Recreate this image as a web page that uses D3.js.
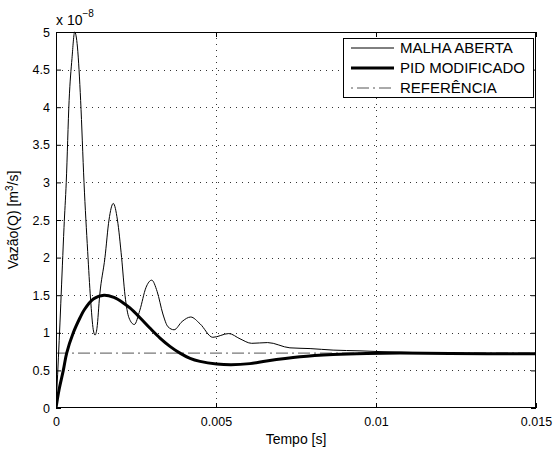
<!DOCTYPE html>
<html><head><meta charset="utf-8">
<script src="https://cdn.jsdelivr.net/npm/d3@7"></script>
<style>
body{margin:0;background:#fff}
text{font-family:"Liberation Sans",Arial,Helvetica,sans-serif;fill:#000}
</style>
</head><body>
<svg id="c" width="553" height="451"></svg>
<script>
// ---- data (values in units of 1e-8 m^3/s) ----
const xTicks = [0, 0.005, 0.01, 0.015];
const xTickLabels = ["0", "0.005", "0.01", "0.015"];
const yTicks = [0, 0.5, 1, 1.5, 2, 2.5, 3, 3.5, 4, 4.5, 5];
const yTickLabels = ["0", "0.5", "1", "1.5", "2", "2.5", "3", "3.5", "4", "4.5", "5"];
const seriesNames = ["MALHA ABERTA", "PID MODIFICADO", "REFERÊNCIA"];

const malhaT = [0, 0.0001, 0.0002, 0.00025, 0.00032, 0.00041, 0.0005, 0.000584, 0.00067, 0.00077, 0.000875, 0.00099, 0.00108, 0.001165, 0.00122, 0.00128, 0.001366, 0.00153, 0.001656, 0.00179, 0.00192, 0.00205, 0.002156, 0.00228, 0.002447, 0.00262, 0.00281, 0.00299, 0.00316, 0.00334, 0.0035, 0.00369, 0.00394, 0.00421, 0.0045, 0.0049, 0.0054, 0.00575, 0.006115, 0.006615, 0.00731, 0.00794, 0.00866, 0.0095, 0.010125, 0.011375, 0.012625, 0.015];
const malhaV = [0, 0.9, 1.9, 2.4, 3.0, 4.09, 4.65, 5.0, 4.8, 4.09, 3.0, 2.08, 1.45, 1.04, 0.97, 1.06, 1.5, 2.0, 2.5, 2.72, 2.5, 2.0, 1.5, 1.2, 1.11, 1.3, 1.6, 1.70, 1.55, 1.25, 1.08, 1.04, 1.15, 1.21, 1.12, 0.94, 0.99, 0.92, 0.86, 0.87, 0.80, 0.79, 0.77, 0.76, 0.75, 0.735, 0.725, 0.72];

const pidT = [0, 0.000094, 0.000228, 0.000334, 0.00054, 0.00075, 0.000875, 0.001166, 0.0015, 0.00181, 0.002125, 0.00231, 0.002625, 0.00294, 0.00325, 0.00356, 0.003875, 0.00419, 0.0045, 0.00502, 0.00547, 0.00606, 0.00658, 0.007625, 0.00866, 0.00971, 0.01075, 0.0123, 0.015];
const pidV = [0, 0.24, 0.5, 0.73, 1.0, 1.2, 1.3, 1.45, 1.50, 1.47, 1.39, 1.33, 1.2, 1.06, 0.93, 0.82, 0.73, 0.66, 0.62, 0.585, 0.575, 0.59, 0.625, 0.68, 0.71, 0.725, 0.73, 0.725, 0.72];

const refT = [0, 0.015];
const refV = [0.73, 0.73];

// ---- layout ----
const svg = d3.select("#c");
const L = 56, R = 536, T = 32, B = 408;
const x = d3.scaleLinear().domain([0, 0.015]).range([L, R]);
const y = d3.scaleLinear().domain([0, 5]).range([B, T]);

// grid
const grid = svg.append("g").attr("stroke", "#333").attr("stroke-width", 1).attr("stroke-dasharray", "1,5");
grid.selectAll("line.gx").data(xTicks.slice(1, -1)).join("line")
  .attr("x1", d => Math.round(x(d)) + 0.5).attr("x2", d => Math.round(x(d)) + 0.5)
  .attr("y1", T).attr("y2", B);
grid.selectAll("line.gy").data(yTicks.slice(1, -1)).join("line")
  .attr("y1", d => Math.round(y(d)) + 0.5).attr("y2", d => Math.round(y(d)) + 0.5)
  .attr("x1", L).attr("x2", R);

// axes
const fx = d => xTickLabels[xTicks.indexOf(d)];
const fy = d => yTickLabels[yTicks.indexOf(d)];
const axB = svg.append("g").attr("transform", `translate(0,${B})`)
  .call(d3.axisBottom(x).tickValues(xTicks).tickFormat(fx).tickSizeInner(-5).tickSizeOuter(0).tickPadding(9));
const axT = svg.append("g").attr("transform", `translate(0,${T})`)
  .call(d3.axisTop(x).tickValues(xTicks).tickFormat("").tickSizeInner(-5).tickSizeOuter(0));
const axL = svg.append("g").attr("transform", `translate(${L},0)`)
  .call(d3.axisLeft(y).tickValues(yTicks).tickFormat(fy).tickSizeInner(-5).tickSizeOuter(0).tickPadding(6));
const axR = svg.append("g").attr("transform", `translate(${R},0)`)
  .call(d3.axisRight(y).tickValues(yTicks).tickFormat("").tickSizeInner(-5).tickSizeOuter(0));
[axB, axT, axL, axR].forEach(a => {
  a.select(".domain").remove();
  a.selectAll("line").attr("stroke", "#000");
  a.selectAll("text").attr("font-size", 12.5).attr("font-family", '"Liberation Sans",Arial,sans-serif');
});

// lines
svg.append("clipPath").attr("id", "clp").append("rect")
  .attr("x", L).attr("y", T - 2).attr("width", R - L).attr("height", B - T + 2);
const plot = svg.append("g").attr("clip-path", "url(#clp)");
const lineRef = d3.line().x(d => x(d[0])).y(d => y(d[1]));
const linePid = d3.line().x(d => x(d[0])).y(d => y(d[1])).curve(d3.curveCatmullRom.alpha(0.5));
const lineMa = d3.line().x(d => x(d[0])).y(d => y(d[1])).curve(d3.curveMonotoneX);
plot.append("path").datum(refT.map((t, i) => [t, refV[i]])).attr("d", lineRef)
  .attr("fill", "none").attr("stroke", "#555").attr("stroke-width", 1).attr("stroke-dasharray", "12,4,2,4");
plot.append("path").datum(pidT.map((t, i) => [t, pidV[i]])).attr("d", linePid)
  .attr("fill", "none").attr("stroke", "#000").attr("stroke-width", 3);
plot.append("path").datum(malhaT.map((t, i) => [t, malhaV[i]])).attr("d", lineMa)
  .attr("fill", "none").attr("stroke", "#000").attr("stroke-width", 1);

// frame
svg.append("rect").attr("x", L + 0.5).attr("y", T + 0.5).attr("width", R - L - 1).attr("height", B - T - 1)
  .attr("fill", "none").attr("stroke", "#000").attr("stroke-width", 1);

// exponent
const ex = svg.append("text").attr("x", L).attr("y", 25).attr("font-size", 14);
ex.append("tspan").text("x 10");
ex.append("tspan").attr("dy", -8).attr("font-size", 10).text("−8");

// labels
svg.append("text").attr("x", (L + R) / 2).attr("y", 444).attr("text-anchor", "middle").attr("font-size", 14).text("Tempo [s]");
const yl = svg.append("text").attr("transform", `translate(18,${(T + B) / 2}) rotate(-90)`)
  .attr("text-anchor", "middle").attr("font-size", 14);
yl.append("tspan").text("Vazão(Q) [m");
yl.append("tspan").attr("dy", -5).attr("font-size", 10).text("3");
yl.append("tspan").attr("dy", 5).text("/s]");

// legend
const lg = svg.append("g");
lg.append("rect").attr("x", 343.5).attr("y", 38.5).attr("width", 190).attr("height", 59)
  .attr("fill", "#fff").attr("stroke", "#000").attr("stroke-width", 1);
const styles = [
  {w: 1, c: "#000", dash: null},
  {w: 3, c: "#000", dash: null},
  {w: 1, c: "#555", dash: "2,4,12,4"}
];
seriesNames.forEach((n, i) => {
  const yy = 48 + i * 20;
  lg.append("line").attr("x1", 351).attr("x2", 394).attr("y1", yy).attr("y2", yy)
    .attr("stroke", styles[i].c).attr("stroke-width", styles[i].w).attr("stroke-dasharray", styles[i].dash);
  lg.append("text").attr("x", 400).attr("y", yy + 5).attr("font-size", 15).attr("textLength", null).text(n);
});
</script>
</body></html>
